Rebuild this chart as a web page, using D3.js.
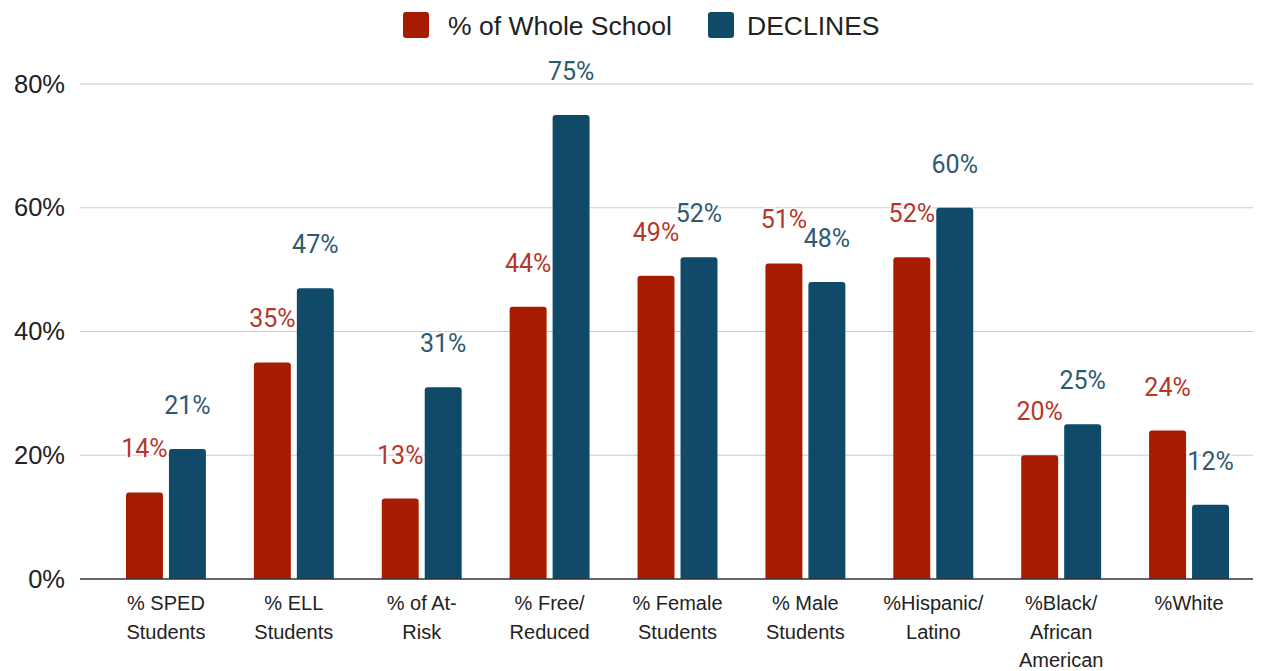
<!DOCTYPE html>
<html>
<head>
<meta charset="utf-8">
<script src="https://cdn.jsdelivr.net/npm/d3@7"></script>
<style>
  html, body { margin: 0; padding: 0; background: #fff; }
  svg { display: block; }
</style>
</head>
<body>
<svg id="chart" width="1266" height="671"></svg>
<script>
// Student group shares: whole school vs. declines
const categories = [
  ["% SPED", "Students"],
  ["% ELL", "Students"],
  ["% of At-", "Risk"],
  ["% Free/", "Reduced"],
  ["% Female", "Students"],
  ["% Male", "Students"],
  ["%Hispanic/", "Latino"],
  ["%Black/", "African", "American"],
  ["%White"]
];
const seriesNames = ["% of Whole School", "DECLINES"];
const wholeSchool = [14, 35, 13, 44, 49, 51, 52, 20, 24];
const declines    = [21, 47, 31, 75, 52, 48, 60, 25, 12];
const yTicks = [0, 20, 40, 60, 80];

const barColors = ["#a61c00", "#0f4a68"];
const labelColors = ["#b5372a", "#2e5a72"];

const svg = d3.select("#chart");
const gridLeft = 80, plotLeft = 102, plotRight = 1253;

const y = d3.scaleLinear().domain([0, 80]).range([579, 84]);
const x0 = d3.scaleBand().domain(d3.range(categories.length)).range([plotLeft, plotRight]).paddingInner(0.375).paddingOuter(0.1875);
const x1 = d3.scaleBand().domain([0, 1]).range([0, x0.bandwidth()]).paddingInner(0.14);

// Gridlines
svg.append("g")
  .selectAll("line")
  .data(yTicks.filter(t => t > 0))
  .join("line")
  .attr("x1", gridLeft).attr("x2", plotRight)
  .attr("y1", d => y(d)).attr("y2", d => y(d))
  .attr("stroke", "#cccccc").attr("stroke-width", 1.2);

// Y axis labels
const yAxis = d3.axisLeft(y).tickValues(yTicks).tickFormat(d => d + "%").tickSize(0).tickPadding(0);
const yg = svg.append("g").attr("transform", `translate(65,0)`).call(yAxis);
yg.select(".domain").remove();
yg.selectAll("text")
  .attr("font-family", "Liberation Sans, Arial, sans-serif")
  .attr("font-size", 25.5).attr("fill", "#222");

// Rounded-top bar path
function topRounded(xp, yp, w, h, r) {
  r = Math.min(r, h, w / 2);
  return `M${xp},${yp + h}V${yp + r}Q${xp},${yp} ${xp + r},${yp}H${xp + w - r}Q${xp + w},${yp} ${xp + w},${yp + r}V${yp + h}Z`;
}

const rows = categories.map((c, i) => ({ i, vals: [wholeSchool[i], declines[i]] }));
const groups = svg.append("g").selectAll("g")
  .data(rows).join("g")
  .attr("transform", d => `translate(${x0(d.i)},0)`);

groups.selectAll("path")
  .data(d => d.vals.map((v, s) => ({ v, s })))
  .join("path")
  .attr("d", d => topRounded(x1(d.s), y(d.v), x1.bandwidth(), y(0) - y(d.v), 3))
  .attr("fill", d => barColors[d.s]);

// Baseline
svg.append("line")
  .attr("x1", gridLeft).attr("x2", plotRight)
  .attr("y1", y(0)).attr("y2", y(0))
  .attr("stroke", "#333").attr("stroke-width", 1.5);

// Value labels
groups.selectAll("text")
  .data(d => d.vals.map((v, s) => ({ v, s })))
  .join("text")
  .attr("x", d => x1(d.s) + x1.bandwidth() / 2)
  .attr("y", d => y(d.v) - 35)
  .attr("text-anchor", "middle")
  .attr("font-family", "Roboto, sans-serif")
  .attr("font-size", 25)
  .attr("fill", d => labelColors[d.s])
  .attr("stroke", "#fff").attr("stroke-width", 3).attr("paint-order", "stroke")
  .text(d => d.v + "%");

// Category labels
const cat = svg.append("g").selectAll("text")
  .data(categories.map((c, i) => ({ c, i })))
  .join("text")
  .attr("x", d => x0(d.i) + x0.bandwidth() / 2)
  .attr("y", 610)
  .attr("text-anchor", "middle")
  .attr("font-family", "Liberation Sans, Arial, sans-serif")
  .attr("font-size", 20).attr("fill", "#222");
cat.selectAll("tspan")
  .data(d => d.c.map(line => ({ line, cx: x0(d.i) + x0.bandwidth() / 2 })))
  .join("tspan")
  .attr("x", d => d.cx)
  .attr("dy", (d, k) => k === 0 ? 0 : 28.5)
  .text(d => d.line);

// Legend
const legendItems = [{ x: 403, tx: 448, s: 0 }, { x: 708, tx: 747, s: 1 }];
const lg = svg.append("g").selectAll("g").data(legendItems).join("g");
lg.append("rect").attr("x", d => d.x).attr("y", 12).attr("width", 26).attr("height", 26).attr("rx", 3)
  .attr("fill", d => barColors[d.s]);
lg.append("text").attr("x", d => d.tx).attr("y", 35)
  .attr("font-family", "Liberation Sans, Arial, sans-serif")
  .attr("font-size", 26.5).attr("fill", "#222")
  .text(d => seriesNames[d.s]);
</script>
</body>
</html>
